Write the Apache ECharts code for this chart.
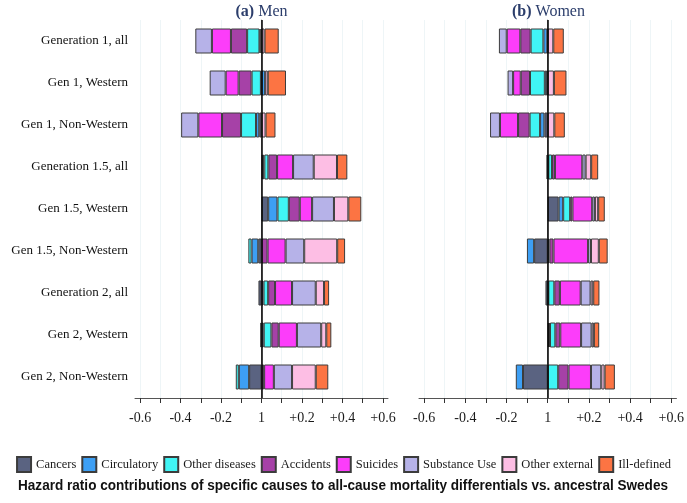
<!DOCTYPE html>
<html><head><meta charset="utf-8">
<script src="https://cdn.jsdelivr.net/npm/echarts@6/dist/echarts.min.js"></script>
<style>html,body{margin:0;padding:0;background:#fff}#c{width:687px;height:503px}</style>
</head><body><div id="c"></div>
<script>
const categories = ['Generation 1, all','Gen 1, Western','Gen 1, Non-Western','Generation 1.5, all','Gen 1.5, Western','Gen 1.5, Non-Western','Generation 2, all','Gen 2, Western','Gen 2, Non-Western'];
const causes = ['Cancers','Circulatory','Other diseases','Accidents','Suicides','Substance Use','Other external','Ill-defined'];
const causeColors = ['#5a6381','#3d9ff4','#40f5f5','#a641a7','#fc3dfa','#b6b2e8','#fdbee4','#fc7443'];

// Men
const menCancers      = [-0.005,-0.003,-0.011, 0.007, 0.033,-0.016,-0.015,-0.006,-0.061];
const menCirculatory  = [-0.005, 0.018,-0.016, 0.007, 0.046,-0.033, 0.010, 0.011,-0.051];
const menOtherDis     = [-0.061,-0.046,-0.074, 0.020, 0.056,-0.016, 0.023, 0.038,-0.015];
const menAccidents    = [-0.080,-0.064,-0.094, 0.043, 0.054, 0.030, 0.034, 0.036, 0.013];
const menSuicides     = [-0.094,-0.064,-0.117, 0.079, 0.061, 0.089, 0.084, 0.090, 0.048];
const menSubstance    = [-0.082,-0.079,-0.085, 0.102, 0.108, 0.092, 0.117, 0.120, 0.090];
const menOtherExt     = [ 0.015, 0.013, 0.020, 0.115, 0.071, 0.163, 0.041, 0.025, 0.117];
const menIllDefined   = [ 0.070, 0.090, 0.049, 0.051, 0.064, 0.039, 0.025, 0.025, 0.062];

// Women
const womenCancers     = [-0.002,-0.003,-0.016,-0.006, 0.053,-0.066,-0.011, 0.006,-0.120];
const womenCirculatory = [-0.019,-0.011,-0.021, 0.003, 0.022,-0.035, 0.003, 0.005,-0.035];
const womenOtherDis    = [-0.062,-0.072,-0.051, 0.018, 0.034, 0.008, 0.029, 0.026, 0.051];
const womenAccidents   = [-0.050,-0.045,-0.056, 0.014, 0.011, 0.020, 0.027, 0.024, 0.050];
const womenSuicides    = [-0.066,-0.037,-0.088, 0.133, 0.096, 0.168, 0.101, 0.101, 0.109];
const womenSubstance   = [-0.038,-0.027,-0.048, 0.016, 0.013, 0.014, 0.048, 0.051, 0.050];
const womenOtherExt    = [ 0.027, 0.030, 0.032, 0.027, 0.016, 0.038, 0.013, 0.011, 0.016];
const womenIllDefined  = [ 0.051, 0.061, 0.051, 0.034, 0.032, 0.043, 0.030, 0.026, 0.050];

const tickValues  = [-0.6,-0.5,-0.4,-0.3,-0.2,-0.1,0,0.1,0.2,0.3,0.4,0.5,0.6];
const labelValues = [-0.6,-0.4,-0.2,0,0.2,0.4,0.6];
const panelTitles = [['(a)',' Men'],['(b)',' Women']];
const caption = 'Hazard ratio contributions of specific causes to all-cause mortality differentials vs. ancestral Swedes';

const menSets = [menCancers,menCirculatory,menOtherDis,menAccidents,menSuicides,menSubstance,menOtherExt,menIllDefined];
const womenSets = [womenCancers,womenCirculatory,womenOtherDis,womenAccidents,womenSuicides,womenSubstance,womenOtherExt,womenIllDefined];

const serif = "'Liberation Serif','Times New Roman',serif";
const captionFont = "bold 15px 'Liberation Sans',Arial,sans-serif";
function fmt(v){ if (Math.abs(v) < 1e-9) return '1'; return v > 0 ? '+' + v.toFixed(1) : v.toFixed(1); }

// horizontal condensing factor for the caption (mimics a narrow bold face)
const mctx = document.createElement('canvas').getContext('2d');
mctx.font = captionFont;
const captionScale = 650 / mctx.measureText(caption).width;

function xAxisCfg(gi){
  return {type:'value', gridIndex:gi, min:-0.625, max:0.625,
    axisLine:{show:true, onZero:false, lineStyle:{color:'#555', width:1}},
    axisTick:{show:true, customValues:tickValues, length:5, lineStyle:{color:'#333'}},
    axisLabel:{customValues:labelValues, formatter:fmt, fontFamily:serif, fontSize:14, color:'#1a1a1a', margin:13},
    splitLine:{show:true, lineStyle:{color:'#eef5f7', width:1}}};
}
function yAxisCfg(gi, showLabels){
  return {type:'category', gridIndex:gi, data:categories, inverse:true,
    axisLine:{show:true, lineStyle:{color:'#9a9a9a', width:1}},
    axisTick:{show:false},
    axisLabel:{show:showLabels, fontFamily:serif, fontSize:13, color:'#111', margin:7},
    splitLine:{show:false}};
}

const series = [];
[menSets, womenSets].forEach((sets, p) => {
  causes.forEach((name, i) => {
    const s = {type:'bar', name, stack:p ? 'women' : 'men', xAxisIndex:p, yAxisIndex:p,
      data:sets[i], barWidth:25,
      itemStyle:{color:causeColors[i], borderColor:'#3c3c3c', borderWidth:1}};
    if (i === causes.length - 1) {
      s.markLine = {silent:true, symbol:['none','none'], label:{show:false},
        lineStyle:{color:'#000', width:1.5, type:'solid'}, data:[{xAxis:0}], animation:false};
    }
    series.push(s);
  });
});

const chart = echarts.init(document.getElementById('c'), null, {renderer:'canvas'});
chart.setOption({
  animation:false,
  backgroundColor:'#fff',
  grid:[{left:135, top:20, width:253, height:378},{left:419, top:20, width:259, height:378}],
  xAxis:[xAxisCfg(0), xAxisCfg(1)],
  yAxis:[yAxisCfg(0, true), yAxisCfg(1, false)],
  legend:{data:causes, top:456, left:'center', padding:0, icon:'rect', itemWidth:14, itemHeight:15, itemGap:5,
    textStyle:{fontFamily:serif, fontSize:12.5, color:'#1a1a1a'}},
  graphic:[
    {type:'text', x:261.5, y:12, style:{text:'{b|' + panelTitles[0][0] + '}' + panelTitles[0][1], fill:'#2b3d6b', font:"16px " + serif, textAlign:'center', textVerticalAlign:'middle',
      rich:{b:{fontWeight:'bold', fontFamily:serif, fontSize:16, fill:'#2b3d6b'}}}},
    {type:'text', x:548.5, y:12, style:{text:'{b|' + panelTitles[1][0] + '}' + panelTitles[1][1], fill:'#2b3d6b', font:"16px " + serif, textAlign:'center', textVerticalAlign:'middle',
      rich:{b:{fontWeight:'bold', fontFamily:serif, fontSize:16, fill:'#2b3d6b'}}}},
    {type:'text', x:343, y:486, scaleX:captionScale, originX:0, style:{text:caption, fill:'#111', font:captionFont, textAlign:'center', textVerticalAlign:'middle'}}
  ],
  series
});
</script>
</body></html>
